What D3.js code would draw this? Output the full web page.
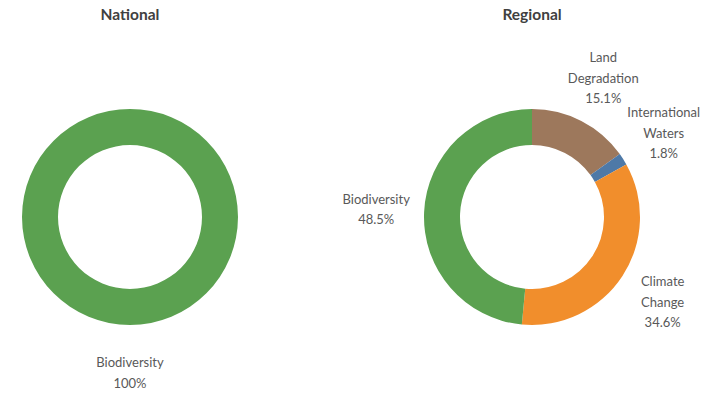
<!DOCTYPE html>
<html>
<head>
<meta charset="utf-8">
<script src="https://cdn.jsdelivr.net/npm/d3@7"></script>
<style>
  body { margin: 0; background: #fff; }
  svg { font-family: Lato, "Open Sans", sans-serif; }
</style>
</head>
<body>
<svg id="chart"></svg>
<script>
var width = 710,
	height = 393;

// Data: share of funding by focal area
var categories = ["Land Degradation", "International Waters", "Climate Change", "Biodiversity"];
var labelLines = [["Land", "Degradation"], ["International", "Waters"], ["Climate", "Change"], ["Biodiversity"]];
var nationalValues = [0, 0, 0, 100];
var regionalValues = [15.1, 1.8, 34.6, 48.5];
var nationalLabels = ["", "", "", "100%"];
var regionalLabels = ["15.1%", "1.8%", "34.6%", "48.5%"];
var titles = ["National", "Regional"];

var color = d3.scaleOrdinal()
	.domain(categories)
	.range(["#9d785c", "#4e79a7", "#f18e2c", "#5ba150"]);

var outer = 108, inner = 72, labelR = 156, lineH = 20.5;

var svg = d3.select('#chart')
	.attr('width', width)
	.attr('height', height);

var panels = [
	{title: titles[0], values: nationalValues, labels: nationalLabels, cx: 130, cy: 217},
	{title: titles[1], values: regionalValues, labels: regionalLabels, cx: 532, cy: 217}
];

var pie = d3.pie().sort(null).value(d => d.value);
var arc = d3.arc().innerRadius(inner).outerRadius(outer);
var labelArc = d3.arc().innerRadius(labelR).outerRadius(labelR);

panels.forEach(function(p){
	var g = svg.append('g')
		.attr('transform', 'translate(' + p.cx + ',' + p.cy + ')');

	svg.append('text')
		.attr('x', p.cx)
		.attr('y', 20)
		.attr('text-anchor', 'middle')
		.attr('font-weight', 'bold')
		.attr('font-size', 15.5)
		.attr('fill', '#404040')
		.text(p.title);

	var data = categories.map((c, i) => ({cat: c, value: p.values[i], lines: labelLines[i].concat([p.labels[i]])}))
	var arcs = pie(data).filter(d => d.data.value > 0);

	g.selectAll('path')
		.data(arcs)
		.join('path')
		.attr('d', arc)
		.attr('fill', d => color(d.data.cat));

	var lbl = g.selectAll('text.lbl')
		.data(arcs)
		.join('text')
		.attr('class', 'lbl')
		.attr('text-anchor', 'middle')
		.attr('font-size', 13)
		.attr('fill', '#595959')
		.attr('transform', d => 'translate(' + labelArc.centroid(d) + ')');

	lbl.selectAll('tspan')
		.data(d => d.data.lines.map((t, i, a) => ({t: t, i: i, n: a.length})))
		.join('tspan')
		.attr('x', 0)
		.attr('y', d => (d.i - (d.n - 1) / 2) * lineH + 4.5)
		.text(d => d.t);
});
</script>
</body>
</html>
